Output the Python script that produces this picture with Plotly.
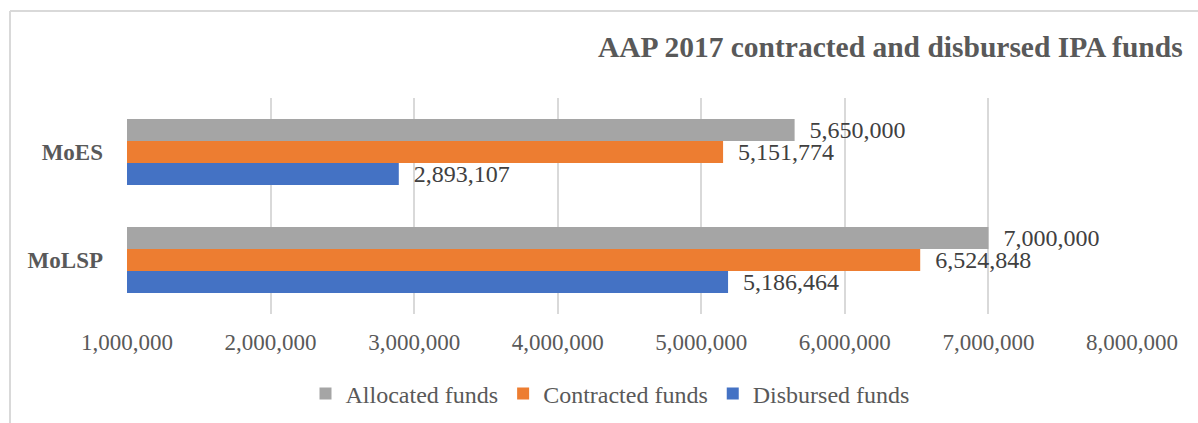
import plotly.graph_objects as go

categories = ["MoES", "MoLSP"]
allocated = [5650000, 7000000]
contracted = [5151774, 6524848]
disbursed = [2893107, 5186464]
series_names = ["Allocated funds", "Contracted funds", "Disbursed funds"]
colors = ["#a5a5a5", "#ed7d31", "#4472c4"]
x_ticks = [1000000, 2000000, 3000000, 4000000, 5000000, 6000000, 7000000, 8000000]
title = "AAP 2017 contracted and disbursed IPA funds"

FONT = "Liberation Serif, Times New Roman, serif"
W, H = 1198, 423
L, R, T, B = 127, 1198 - 1132, 98, 423 - 314
pw, ph = W - L - R, H - T - B

def px_x(p):
    return (p - L) / pw

def px_y(p):
    return (H - B - p) / ph

fig = go.Figure()
for name, vals, col in zip(series_names, [allocated, contracted, disbursed], colors):
    fig.add_trace(go.Bar(
        y=categories, x=vals, name=name, orientation="h",
        marker=dict(color=col, line=dict(width=0)),
        base=0,
        text=vals, texttemplate="\u00a0\u00a0%{x:,}", textposition="outside",
        textfont=dict(family=FONT, size=24, color="#404040"),
        constraintext="none", cliponaxis=False,
    ))

fig.update_layout(
    width=W, height=H,
    margin=dict(l=L, r=R, t=T, b=B, autoexpand=False),
    paper_bgcolor="white", plot_bgcolor="white",
    barmode="group", bargap=0.39, bargroupgap=0,
    font=dict(family=FONT, color="#595959"),
    showlegend=True,
    legend=dict(orientation="h", x=px_x(610), y=px_y(394), xanchor="center", yanchor="middle",
                font=dict(family=FONT, size=24, color="#595959"), itemwidth=30,
                traceorder="normal"),
    xaxis=dict(range=[1000000, 8000000], tickvals=x_ticks, tickformat=",", showgrid=True,
               gridcolor="#d9d9d9", gridwidth=2, zeroline=False, showline=False,
               tickfont=dict(family=FONT, size=23, color="#595959"), ticklabelstandoff=12),
    yaxis=dict(autorange="reversed", showgrid=False, showline=False,
               tickvals=categories, ticktext=["<b>" + c + "</b>" for c in categories],
               tickfont=dict(family=FONT, size=23, color="#595959"), ticklabelstandoff=23),
    annotations=[dict(text="<b>" + title + "</b>", xref="paper", yref="paper",
                      x=px_x(1185), y=px_y(47), xanchor="right", yanchor="middle",
                      showarrow=False, font=dict(family=FONT, size=29.5, color="#595959"))],
    shapes=[
        dict(type="line", xref="paper", yref="paper", x0=px_x(10), x1=px_x(10), y0=px_y(11), y1=px_y(430),
             line=dict(color="#d9d9d9", width=2)),
        dict(type="line", xref="paper", yref="paper", x0=px_x(10), x1=px_x(1210), y0=px_y(11), y1=px_y(11),
             line=dict(color="#d9d9d9", width=2)),
    ],
)

fig.write_html("out.html")
